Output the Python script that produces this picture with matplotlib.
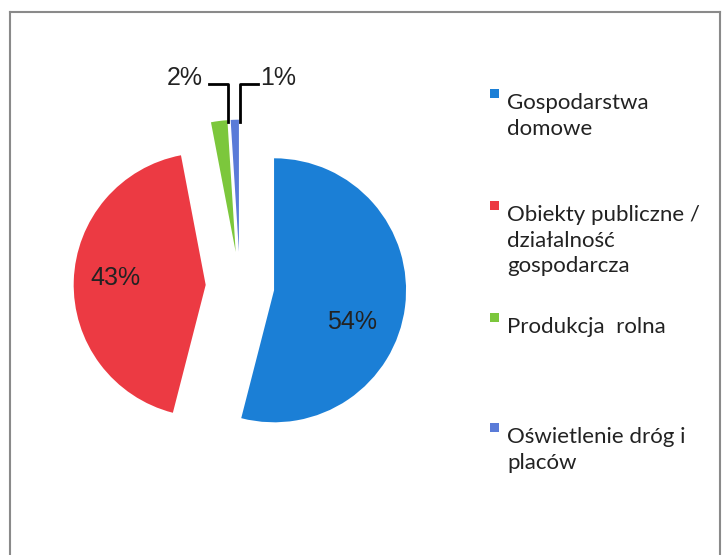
# Pie chart: energy use by consumer group
import matplotlib.pyplot as plt
from matplotlib.patches import Rectangle
from matplotlib.lines import Line2D

# Data
labels = ['Gospodarstwa\ndomowe',
          'Obiekty publiczne /\ndziałalność\ngospodarcza',
          'Produkcja  rolna',
          'Oświetlenie dróg i\nplaców']
shares = [54, 43, 2, 1]
colors = ['#1b7fd6', '#ec3a43', '#7cc73c', '#5a7bd8']

W, H = 726, 555
fig = plt.figure(figsize=(W / 100, H / 100), dpi=100)
ax = fig.add_axes([0, 0, 1, 1])
ax.axis('off')

# pie centre/radius in pixel units (y measured from bottom)
cx, cy, r = 240, H - 286, 132
ax.pie(shares, colors=colors, startangle=90, counterclock=False,
       center=(cx, cy), radius=r, explode=[0.26 * r] * 4,
       wedgeprops=dict(linewidth=0))
ax.set_xlim(0, W)
ax.set_ylim(0, H)
ax.set_aspect('auto')

txt_color = '#222222'
# labels inside big slices
ax.text(352, H - 322, f'{shares[0]}%', ha='center', va='center', fontsize=18,
        family='Liberation Sans', color=txt_color)
ax.text(115, H - 278, f'{shares[1]}%', ha='center', va='center', fontsize=18,
        family='Liberation Sans', color=txt_color)
# labels for the thin slices with leader lines
ax.text(185, H - 78, f'{shares[2]}%', ha='center', va='center', fontsize=18,
        family='Liberation Sans', color=txt_color)
ax.text(278, H - 78, f'{shares[3]}%', ha='center', va='center', fontsize=18,
        family='Liberation Sans', color=txt_color)
ax.plot([209, 228, 228], [H - 84, H - 84, H - 122], color='black', lw=2)
ax.plot([258, 240, 240], [H - 84, H - 84, H - 122], color='black', lw=2)

# legend drawn by hand (Excel-like uneven spacing)
leg_y = [93, 205, 317, 427]
for lab, col, y in zip(labels, colors, leg_y):
    ax.add_patch(Rectangle((490, H - y - 5), 9, 9, color=col, lw=0))
    ax.text(507, H - y, lab, ha='left', va='top', fontsize=16, family='Lato',
            color=txt_color, linespacing=1.35)

# frame (no bottom edge)
frame_c = '#8a8a8a'
fig.add_artist(Line2D([10, 10], [0, H - 12], color=frame_c, lw=1.5, transform=None))
fig.add_artist(Line2D([10, 720], [H - 12, H - 12], color=frame_c, lw=1.5, transform=None))
fig.add_artist(Line2D([720, 720], [0, H - 12], color=frame_c, lw=1.5, transform=None))

fig.savefig('out.png', dpi=100)
